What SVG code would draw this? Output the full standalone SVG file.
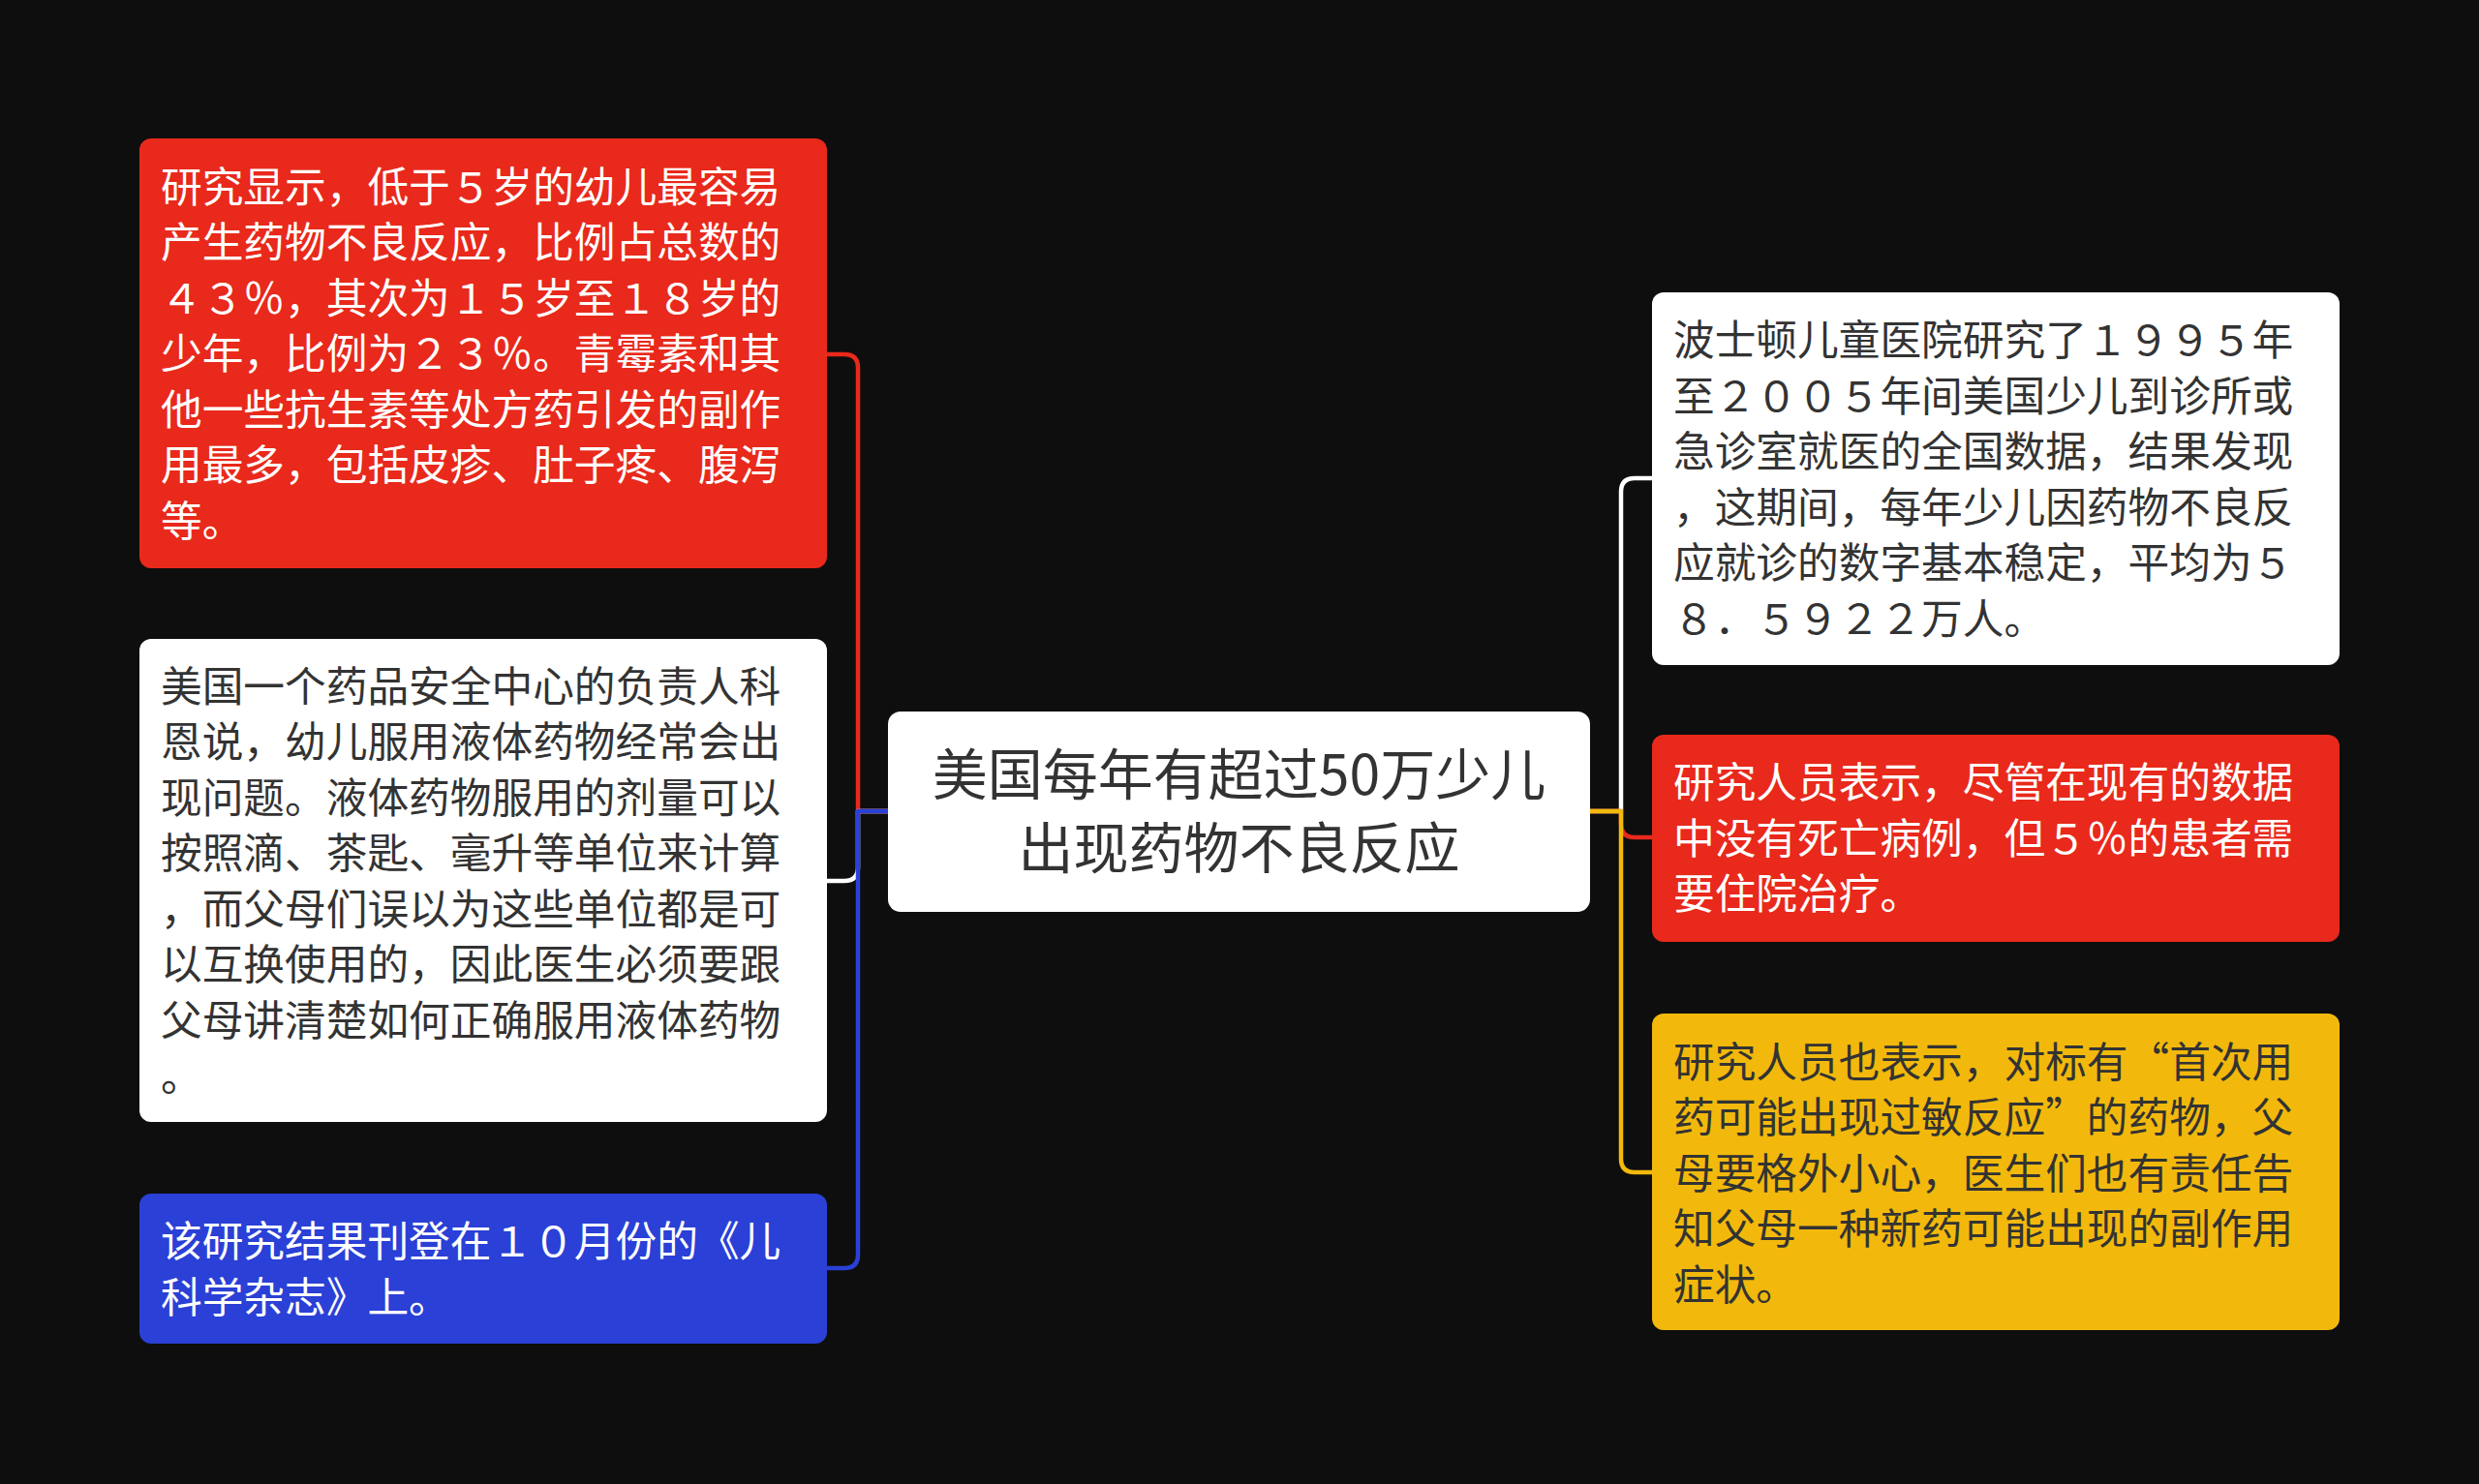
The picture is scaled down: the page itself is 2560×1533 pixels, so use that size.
<svg xmlns="http://www.w3.org/2000/svg" width="2560" height="1533" viewBox="0 0 2560 1533">
<style>
.t{font-family:"Noto Sans CJK SC","Noto Sans",sans-serif;font-size:42.7px}
.c{font-family:"Noto Sans CJK SC","Noto Sans",sans-serif;font-size:57px;fill:#333333}
.lw{fill:#FFFFFF}
.ld{fill:#333333}
.conn{fill:none;stroke-width:4.5;stroke-linecap:round;stroke-linejoin:round}
</style>
<rect x="0" y="0" width="2560" height="1533" fill="#0E0E0E"/>
<g id="connectors">
<path class="conn" stroke="#E8291B" d="M917 838 H886 V380 Q886 366 872 366 H854"/>
<path class="conn" stroke="#FFFFFF" d="M917 838 H886 V896 Q886 910 872 910 H854"/>
<path class="conn" stroke="#2A40D6" d="M917 838 H886 V1296 Q886 1310 872 1310 H854"/>
<path class="conn" stroke="#FFFFFF" d="M1642 838 H1674 V508 Q1674 494 1688 494 H1706"/>
<path class="conn" stroke="#E8291B" d="M1642 838 H1674 V851 Q1674 865 1688 865 H1706"/>
<path class="conn" stroke="#F2B90C" d="M1642 838 H1674 V1197 Q1674 1211 1688 1211 H1706"/>
</g>
<g id="center">
<rect x="917" y="735" width="725" height="207" rx="13" fill="#FFFFFF"/>
<text class="c" text-anchor="middle"><tspan x="1279.5" y="820.7">美国每年有超过50万少儿</tspan><tspan x="1279.5" y="896.7">出现药物不良反应</tspan></text>
</g>
<g id="left1">
<rect x="144" y="143" width="710" height="444" rx="12" fill="#E8291B"/>
<text class="t lw"><tspan x="166" y="208.5">研究显示，低于５岁的幼儿最容易</tspan><tspan x="166" y="266">产生药物不良反应，比例占总数的</tspan><tspan x="166" y="323.5">４３％，其次为１５岁至１８岁的</tspan><tspan x="166" y="381">少年，比例为２３％。青霉素和其</tspan><tspan x="166" y="438.5">他一些抗生素等处方药引发的副作</tspan><tspan x="166" y="496">用最多，包括皮疹、肚子疼、腹泻</tspan><tspan x="166" y="553.5">等。</tspan></text>
</g>
<g id="left2">
<rect x="144" y="660" width="710" height="499" rx="12" fill="#FFFFFF"/>
<text class="t ld"><tspan x="166" y="724.5">美国一个药品安全中心的负责人科</tspan><tspan x="166" y="782">恩说，幼儿服用液体药物经常会出</tspan><tspan x="166" y="839.5">现问题。液体药物服用的剂量可以</tspan><tspan x="166" y="897">按照滴、茶匙、毫升等单位来计算</tspan><tspan x="166" y="954.5">，而父母们误以为这些单位都是可</tspan><tspan x="166" y="1012">以互换使用的，因此医生必须要跟</tspan><tspan x="166" y="1069.5">父母讲清楚如何正确服用液体药物</tspan><tspan x="166" y="1127">。</tspan></text>
</g>
<g id="left3">
<rect x="144" y="1233" width="710" height="155" rx="12" fill="#2A40D6"/>
<text class="t lw"><tspan x="166" y="1298">该研究结果刊登在１０月份的《儿</tspan><tspan x="166" y="1355.5">科学杂志》上。</tspan></text>
</g>
<g id="right1">
<rect x="1706" y="302" width="710" height="385" rx="12" fill="#FFFFFF"/>
<text class="t ld"><tspan x="1728" y="367">波士顿儿童医院研究了１９９５年</tspan><tspan x="1728" y="424.5">至２００５年间美国少儿到诊所或</tspan><tspan x="1728" y="482">急诊室就医的全国数据，结果发现</tspan><tspan x="1728" y="539.5">，这期间，每年少儿因药物不良反</tspan><tspan x="1728" y="597">应就诊的数字基本稳定，平均为５</tspan><tspan x="1728" y="654.5">８．５９２２万人。</tspan></text>
</g>
<g id="right2">
<rect x="1706" y="759" width="710" height="214" rx="12" fill="#E8291B"/>
<text class="t lw"><tspan x="1728" y="824.2">研究人员表示，尽管在现有的数据</tspan><tspan x="1728" y="881.7">中没有死亡病例，但５％的患者需</tspan><tspan x="1728" y="939.2">要住院治疗。</tspan></text>
</g>
<g id="right3">
<rect x="1706" y="1047" width="710" height="327" rx="12" fill="#F2B90C"/>
<text class="t ld"><tspan x="1728" y="1112.7">研究人员也表示，对标有“首次用</tspan><tspan x="1728" y="1170.2">药可能出现过敏反应”的药物，父</tspan><tspan x="1728" y="1227.7">母要格外小心，医生们也有责任告</tspan><tspan x="1728" y="1285.2">知父母一种新药可能出现的副作用</tspan><tspan x="1728" y="1342.7">症状。</tspan></text>
</g>
</svg>
